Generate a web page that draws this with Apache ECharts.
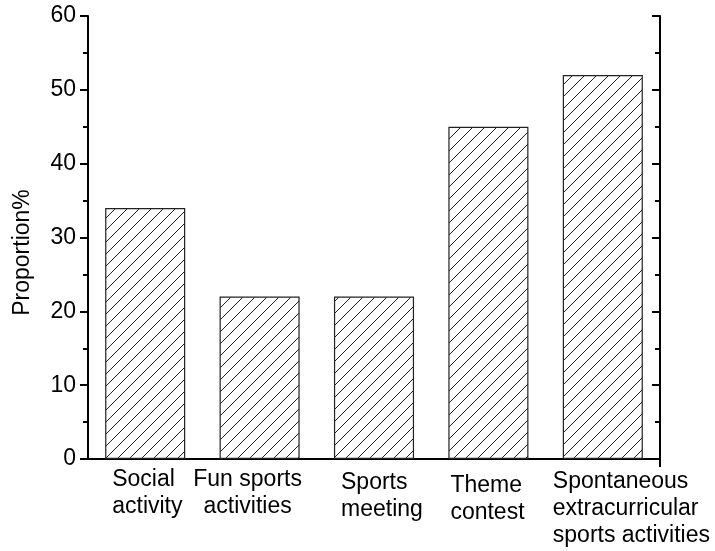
<!DOCTYPE html>
<html>
<head>
<meta charset="utf-8">
<script src="https://cdn.jsdelivr.net/npm/echarts@6/dist/echarts.min.js"></script>
<style>
  html, body { margin: 0; padding: 0; background: #fff; }
  #chart { width: 715px; height: 551px; }
</style>
</head>
<body>
<div id="chart"></div>
<script>
// Activity categories and their shares (%)
const categories = [
  'Social\nactivity',
  'Fun sports\nactivities',
  'Sports\nmeeting',
  'Theme\ncontest',
  'Spontaneous\nextracurricular\nsports activities'
];
const proportions = [34, 22, 22, 45, 52];
const yTicks = [0, 10, 20, 30, 40, 50, 60];

const FONT = '"Liberation Sans", Arial, sans-serif';
const FS = 23;

// Diagonal hatch fill for the bars
function hatchPattern() {
  const s = 12;
  const c = document.createElement('canvas');
  c.width = s; c.height = s;
  const g = c.getContext('2d');
  g.fillStyle = '#fff';
  g.fillRect(0, 0, s, s);
  g.strokeStyle = '#222';
  g.lineWidth = 1;
  for (const k of [-s, 0, s]) {
    g.beginPath();
    g.moveTo(k, s);
    g.lineTo(k + s, 0);
    g.stroke();
  }
  return c;
}

const chart = echarts.init(document.getElementById('chart'), null, { renderer: 'canvas' });

// per-label horizontal shift and alignment relative to category centre
const labelPlacement = [
  { align: 'left', dx: -33, dy: 1 },
  { align: 'center', dx: -12, dy: 1 },
  { align: 'left', dx: -33, dy: 4 },
  { align: 'left', dx: -38, dy: 7 },
  { align: 'left', dx: -50, dy: 3 }
];

const option = {
  animation: false,
  backgroundColor: '#fff',
  grid: { left: 88, right: 55, top: 16, bottom: 92, containLabel: false },
  xAxis: [
    {
      type: 'category',
      data: categories,
      position: 'bottom',
      axisLine: { show: true, lineStyle: { color: '#000', width: 2 } },
      axisTick: { show: false },
      axisLabel: { show: false },
      splitLine: { show: false }
    },
    {
      type: 'category',
      data: categories,
      position: 'top',
      axisLine: { show: true, lineStyle: { color: '#000', width: 2 } },
      axisTick: { show: false },
      axisLabel: { show: false },
      splitLine: { show: false }
    }
  ],
  yAxis: [
    {
      type: 'value',
      min: yTicks[0],
      max: yTicks[yTicks.length - 1],
      interval: 10,
      position: 'left',
      axisLine: { show: true, onZero: false, lineStyle: { color: '#000', width: 2 } },
      axisTick: { show: true, inside: false, length: 8, lineStyle: { color: '#000', width: 2 } },
      minorTick: { show: true, splitNumber: 2, length: 5, lineStyle: { color: '#000', width: 2 } },
      axisLabel: { color: '#000', fontSize: FS, fontFamily: FONT, margin: 12 },
      splitLine: { show: false }
    },
    {
      type: 'value',
      min: yTicks[0],
      max: yTicks[yTicks.length - 1],
      interval: 10,
      position: 'right',
      axisLine: { show: true, onZero: false, lineStyle: { color: '#000', width: 2 } },
      axisTick: { show: true, inside: true, length: 8, lineStyle: { color: '#000', width: 2 } },
      minorTick: { show: true, splitNumber: 2, length: 5, lineStyle: { color: '#000', width: 2 } },
      axisLabel: { show: false },
      splitLine: { show: false }
    }
  ],
  series: [
    {
      type: 'bar',
      data: proportions,
      barWidth: '70%',
      itemStyle: {
        color: { image: hatchPattern(), repeat: 'repeat' },
        borderColor: '#222',
        borderWidth: 1.2
      }
    }
  ]
};
chart.setOption(option);

// Category labels and the y-axis title, positioned from the axis scales
function placeText() {
  const base = chart.convertToPixel({ yAxisIndex: 0 }, 0);
  const elements = categories.map((c, i) => {
    const cx = chart.convertToPixel({ xAxisIndex: 0 }, i);
    const p = labelPlacement[i];
    return {
      type: 'text',
      x: cx + p.dx,
      y: base + 6 + p.dy,
      style: {
        text: c,
        fill: '#000',
        font: FS + 'px ' + FONT,
        lineHeight: 27,
        align: p.align,
        verticalAlign: 'top'
      },
      silent: true
    };
  });
  const step = chart.convertToPixel({ xAxisIndex: 0 }, 1) - chart.convertToPixel({ xAxisIndex: 0 }, 0);
  const right = chart.convertToPixel({ xAxisIndex: 0 }, categories.length - 1) + step / 2;
  elements.push({
    type: 'line',
    shape: { x1: right, y1: base, x2: right, y2: base + 8 },
    style: { stroke: '#000', lineWidth: 2 },
    silent: true
  });
  const yMid = (chart.convertToPixel({ yAxisIndex: 0 }, yTicks[0]) +
    chart.convertToPixel({ yAxisIndex: 0 }, yTicks[yTicks.length - 1])) / 2;
  elements.push({
    type: 'text',
    x: 23,
    y: yMid + 15,
    rotation: Math.PI / 2,
    style: {
      text: 'Proportion%',
      fill: '#000',
      font: FS + 'px ' + FONT,
      align: 'center',
      verticalAlign: 'middle'
    },
    silent: true
  });
  chart.setOption({ graphic: { elements } });
}
placeText();
</script>
</body>
</html>
